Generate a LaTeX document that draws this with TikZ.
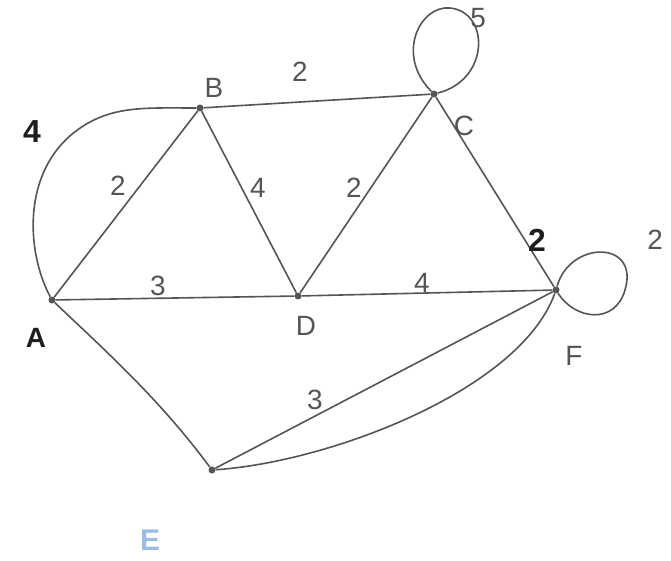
\documentclass[tikz,border=0pt]{standalone}
\usepackage{fontspec}
\setsansfont{Liberation Sans}
\usetikzlibrary{positioning}
\definecolor{ink}{HTML}{555555}
\definecolor{pen}{HTML}{1E1E1E}
\definecolor{faint}{HTML}{9DBCE2}

\begin{document}
\begin{tikzpicture}[
  x=1bp,y=-1bp,
  vtx/.style={circle,fill=ink,inner sep=0pt,minimum size=7bp},
  edge/.style={draw=ink,line width=1.6bp},
  wt/.style={font=\sffamily\fontsize{28}{28}\selectfont,text=ink,inner sep=0pt},
  wtb/.style={font=\sffamily\bfseries\fontsize{32}{32}\selectfont,text=pen,inner sep=0pt},
  lbl/.style={font=\sffamily\fontsize{28}{28}\selectfont,text=ink,inner sep=0pt}]

\useasboundingbox[fill=white] (0,0) rectangle (671,561);

% vertices
\node[vtx] (A) at (52,300) {};
\node[vtx] (B) at (200,108) {};
\node[vtx] (C) at (434,94) {};
\node[vtx] (D) at (298,296) {};
\node[vtx] (F) at (556,290) {};
\node[vtx] (E) at (212,470) {};

% vertex names
\node[lbl,font=\sffamily\bfseries\fontsize{28}{28}\selectfont,text=pen] (nA) at (36,338) {A};
\node[lbl] (nB) at (214,88) {B};
\node[lbl] (nC) at (464,126) {C};
\node[lbl] (nD) at (306,326) {D};
\node[lbl] (nF) at (574,356) {F};
\node[lbl,text=faint,font=\sffamily\bfseries\fontsize{30}{30}\selectfont] (nE) at (150,540) {E};

% edges
\draw[edge] (A) -- (B);
\draw[edge] (A) .. controls (25,250) and (20,160) .. (90,122)
                .. controls (120,106) and (150,108) .. (B);
\draw[edge] (B) -- (C);
\draw[edge] (B) -- (D);
\draw[edge] (C) -- (D);
\draw[edge] (C) -- (F);
\draw[edge] (A) -- (D);
\draw[edge] (D) -- (F);
\draw[edge] (A) .. controls (110,355) and (160,400) .. (E);
\draw[edge] (E) -- (F);
\draw[edge] (E) .. controls (330,462) and (520,390) .. (F);

% loops
\draw[edge] (C) .. controls (395,55) and (420,5) .. (450,8)
                .. controls (490,12) and (490,80) .. (C);
\draw[edge] (F) .. controls (570,240) and (640,240) .. (625,290)
                .. controls (615,325) and (575,320) .. (F);

% weights
\node[wtb] (wAB2) at (32,132) {4};
\node[wt] (wAB) at (118,186) {2};
\node[wt] (wBC) at (300,72) {2};
\node[wt] (wBD) at (258,188) {4};
\node[wt] (wCD) at (354,188) {2};
\node[wtb] (wCF) at (537,240) {2};
\node[wt] (wAD) at (158,286) {3};
\node[wt] (wDF) at (422,283) {4};
\node[wt] (wEF) at (315,400) {3};
\node[wt] (wCC) at (478,18) {5};
\node[wt] (wFF) at (655,240) {2};
\end{tikzpicture}
\end{document}
